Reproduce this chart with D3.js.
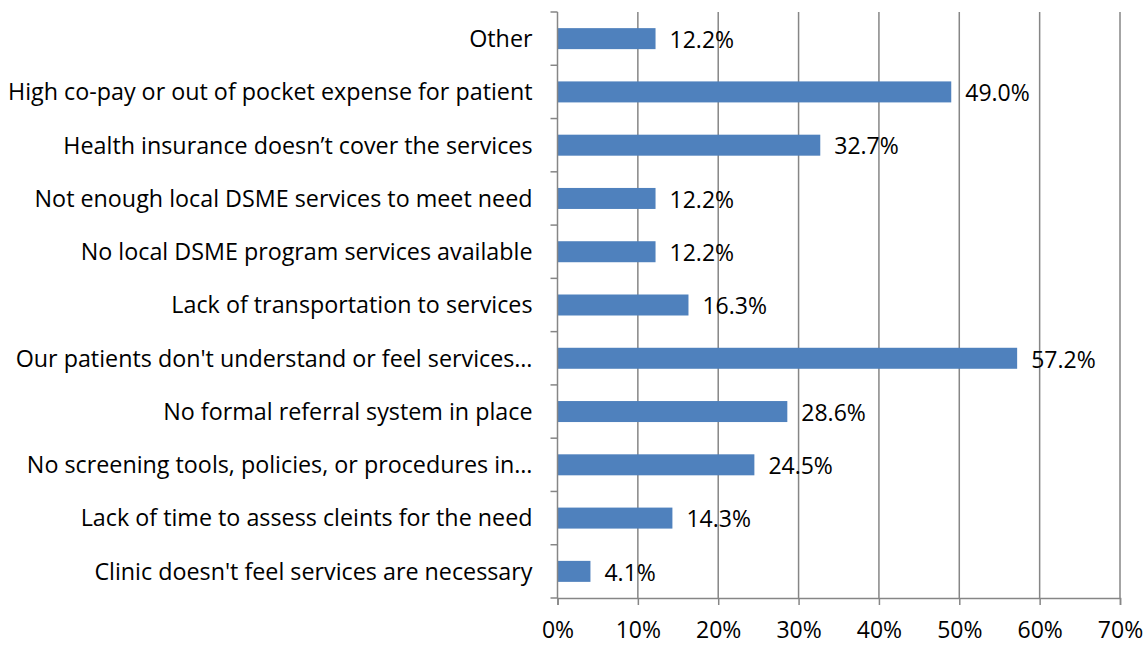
<!DOCTYPE html>
<html>
<head>
<meta charset="utf-8">
<script src="https://cdn.jsdelivr.net/npm/d3@7"></script>
<style>
  html, body { margin: 0; padding: 0; background: #fff; }
  svg { display: block; }
  text { font-family: "Open Sans", Lato, sans-serif; fill: #000; }
</style>
</head>
<body>
<svg id="chart" width="1146" height="645"></svg>
<script>
// Barriers to DSME referral, top to bottom
const categories = [
  "Other",
  "High co-pay or out of pocket expense for patient",
  "Health insurance doesn\u2019t cover the services",
  "Not enough local DSME services to meet need",
  "No local DSME program services available",
  "Lack of transportation to services",
  "Our patients don't understand or feel services\u2026",
  "No formal referral system in place",
  "No screening tools, policies, or procedures in\u2026",
  "Lack of time to assess cleints for the need",
  "Clinic doesn't feel services are necessary"
];
const values = [12.2, 49.0, 32.7, 12.2, 12.2, 16.3, 57.2, 28.6, 24.5, 14.3, 4.1];
const xTicks = [0, 10, 20, 30, 40, 50, 60, 70];

const svg = d3.select("#chart");
const margin = { left: 557.5, right: 26, top: 12, bottom: 47 };
const W = 1146, H = 645;
const fontFamily = "'Open Sans', Lato, sans-serif";

const x = d3.scaleLinear().domain([0, 70]).range([margin.left, W - margin.right]);
const band = d3.scaleBand().domain(categories).range([margin.top, H - margin.bottom]);

const gridColor = "#868686";

// vertical gridlines
svg.append("g").selectAll("line").data(xTicks.slice(1)).join("line")
  .attr("x1", d => x(d)).attr("x2", d => x(d))
  .attr("y1", margin.top).attr("y2", H - margin.bottom)
  .attr("stroke", gridColor).attr("stroke-width", 1.5);

// bars
svg.append("g").selectAll("rect").data(values).join("rect")
  .attr("x", x(0))
  .attr("y", (d, i) => band(categories[i]) + band.bandwidth() / 2 - 10.5)
  .attr("width", d => x(d) - x(0))
  .attr("height", 21)
  .attr("fill", "#4F81BD");

// value labels
svg.append("g").selectAll("text").data(values).join("text")
  .attr("x", d => x(d) + 14)
  .attr("y", (d, i) => band(categories[i]) + band.bandwidth() / 2 + 1)
  .attr("dy", "0.36em")
  .attr("font-size", 23)
  .text(d => d.toFixed(1) + "%");

// bottom axis
const xAxis = d3.axisBottom(x).tickValues(xTicks).tickFormat(d => d + "%").tickSize(7).tickPadding(17);
const gx = svg.append("g").attr("transform", `translate(0,${H - margin.bottom})`).call(xAxis);
gx.select(".domain").attr("stroke", gridColor).attr("stroke-width", 1.5);
gx.selectAll(".tick line").attr("stroke", gridColor).attr("stroke-width", 1.5);
gx.selectAll(".tick text").attr("font-size", 23).attr("font-family", fontFamily).attr("fill", "#000");

// left axis: ticks at category boundaries
const gy = svg.append("g");
gy.append("line")
  .attr("x1", x(0)).attr("x2", x(0))
  .attr("y1", margin.top).attr("y2", H - margin.bottom)
  .attr("stroke", gridColor).attr("stroke-width", 1.5);
const bounds = categories.map(c => band(c)).concat([H - margin.bottom]);
gy.selectAll("line.tk").data(bounds).join("line").attr("class", "tk")
  .attr("x1", x(0) - 7).attr("x2", x(0))
  .attr("y1", d => d).attr("y2", d => d)
  .attr("stroke", gridColor).attr("stroke-width", 1.5);

// category labels
svg.append("g").selectAll("text").data(categories).join("text")
  .attr("x", x(0) - 25)
  .attr("y", d => band(d) + band.bandwidth() / 2)
  .attr("dy", "0.36em")
  .attr("text-anchor", "end")
  .attr("font-size", 23.3)
  .text(d => d);
</script>
</body>
</html>
